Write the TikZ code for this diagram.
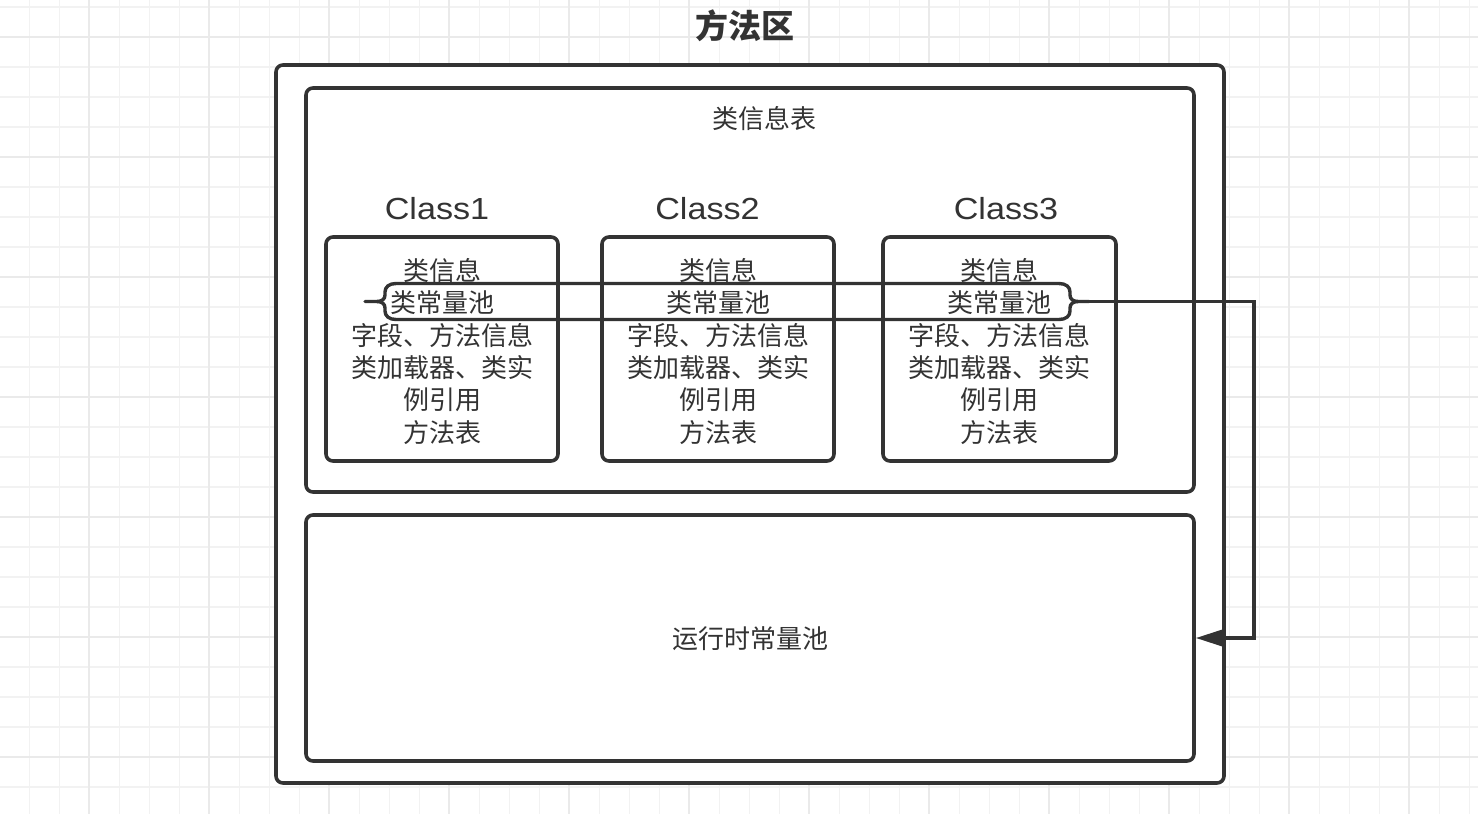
\documentclass[tikz,border=0pt]{standalone}
\usepackage{fontspec}
\setmainfont{Liberation Sans}
\newfontfamily\cjk{Noto Sans CJK SC}
\usetikzlibrary{arrows.meta}
\definecolor{ink}{HTML}{333333}
\definecolor{gridminor}{HTML}{F2F2F2}
\definecolor{gridmajor}{HTML}{EAEAEA}
\begin{document}
\begin{tikzpicture}[x=1pt,y=-1pt,
  box/.style={draw=ink, line width=3.6pt, rounded corners=7pt, fill=white, inner sep=0pt},
  body/.style={font=\cjk\fontsize{26}{32}\selectfont, text=ink, inner sep=0pt},
  clab/.style={font=\fontsize{30.5}{34}\selectfont, text=ink, inner sep=0pt, anchor=base},
  bracepath/.style={draw=ink, line width=3.4pt, line join=round, line cap=round},
  conn/.style={draw=ink, line width=3.4pt, line join=miter, -{Triangle[length=28pt,width=17pt]}}]
\useasboundingbox (0,0) rectangle (1478,814);
% grid
\foreach \i in {0,...,48} \draw[gridminor, line width=1.6pt] ({29.3+30*\i},0) -- (29.3+30*\i,814);
\foreach \j in {0,...,27} \draw[gridminor, line width=1.6pt] (0,{6.7+30*\j}) -- (1478,6.7+30*\j);
\foreach \i in {0,...,11} \draw[gridmajor, line width=1.8pt] ({89.3+120*\i},0) -- (89.3+120*\i,814);
\foreach \j in {0,...,6} \draw[gridmajor, line width=1.8pt] (0,{36.7+120*\j}) -- (1478,36.7+120*\j);
% title
\node[font=\cjk\bfseries\fontsize{33}{38}\selectfont, text=ink, inner sep=0pt] (title) at (745,25.5) {方法区};
% outer box
\node[box, minimum width=948pt, minimum height=718pt] (outer) at (750,424) {};
% class info table
\node[box, minimum width=888pt, minimum height=404pt] (table) at (750,290) {};
\node[body] (tabletitle) at (764,119) {类信息表};
% runtime constant pool
\node[box, minimum width=888pt, minimum height=246pt] (pool) at (750,638) {};
\node[body] (pooltext) at (750,639) {运行时常量池};
% class boxes
\node[box, minimum width=232pt, minimum height=224pt] (c1) at (442,349) {};
\node[box, minimum width=232pt, minimum height=224pt] (c2) at (718,349) {};
\node[box, minimum width=233pt, minimum height=224pt] (c3) at (999.5,349) {};
\node[clab] (c1lab) at (437,219) {\scalebox{1.12}[1]{Class1}};
\node[clab] (c2lab) at (707.5,219) {\scalebox{1.12}[1]{Class2}};
\node[clab] (c3lab) at (1006,219) {\scalebox{1.12}[1]{Class3}};
\foreach \cx/\nm in {442/c1, 718/c2, 999.5/c3}{
  \foreach \t [count=\k] in {类信息,类常量池,字段、方法信息,类加载器、类实,例引用,方法表}
    \node[body, anchor=base] (\nm t\k) at (\cx,{248.2+32.3*\k}) {\t};
}
% brace-shaped bracket around the constant pools
\coordinate (brl) at (365,301.5);
\coordinate (brr) at (1089,301.5);
\draw[bracepath] (brl) -- (377,301.5)
  .. controls (382,301.5) and (385,299) .. (385,295)
  -- (385,292) .. controls (385,287) and (389,283.5) .. (396,283.5)
  -- (1059,283.5) .. controls (1066,283.5) and (1070,287) .. (1070,292)
  -- (1070,295) .. controls (1070,299) and (1073,301.5) .. (1078,301.5)
  -- (brr);
\draw[bracepath] (377,301.5)
  .. controls (382,301.5) and (385,304) .. (385,308)
  -- (385,311) .. controls (385,316) and (389,319.5) .. (396,319.5)
  -- (1059,319.5) .. controls (1066,319.5) and (1070,316) .. (1070,311)
  -- (1070,308) .. controls (1070,304) and (1073,301.5) .. (1078,301.5);
% connector to runtime constant pool
\draw[conn] (brr) -- ++(165,0) |- (pool.east);
\end{tikzpicture}
\end{document}
